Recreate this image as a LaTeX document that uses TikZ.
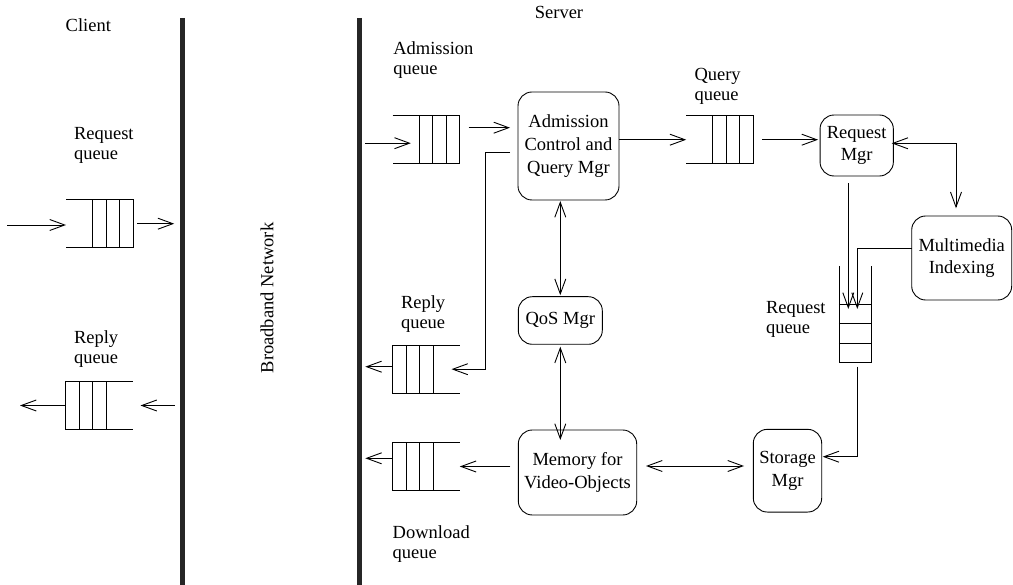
\documentclass[tikz,border=0pt]{standalone}
\usepackage{fontspec}
\setmainfont{Liberation Serif}
\usetikzlibrary{arrows.meta,calc}
\newcommand{\qopenleft}[1]{%
  \draw (#1.north west) -- (#1.north east) -- (#1.south east) -- (#1.south west);
  \foreach \d in {13.5,27,40.5} \draw ([xshift=-\d pt]#1.north east) -- ([xshift=-\d pt]#1.south east);}
\newcommand{\qopenright}[1]{%
  \draw (#1.north east) -- (#1.north west) -- (#1.south west) -- (#1.south east);
  \foreach \d in {13.5,27,40.5} \draw ([xshift=\d pt]#1.north west) -- ([xshift=\d pt]#1.south west);}
\newcommand{\qopentop}[1]{%
  \draw (#1.north west) -- (#1.south west) -- (#1.south east) -- (#1.north east);
  \foreach \d in {19.5,39,58.5} \draw ([yshift=\d pt]#1.south west) -- ([yshift=\d pt]#1.south east);}
\begin{document}
\begin{tikzpicture}[x=1pt,y=-1pt, line width=0.9pt,
  every node/.style={inner sep=0pt, outer sep=0pt},
  lbl/.style={align=left, anchor=base west, font=\fontsize{18.5}{20}\selectfont},
  ttl/.style={anchor=base, font=\fontsize{18.5}{20}\selectfont},
  box/.style={draw, rounded corners=14pt, align=center, font=\fontsize{18.5}{22.7}\selectfont},
  q/.style={minimum width=67pt, minimum height=48pt},
  arr/.style={-{Straight Barb[length=15pt,width=11pt]}},
  darr/.style={{Straight Barb[length=15pt,width=11pt]}-{Straight Barb[length=15pt,width=11pt]}},
  bar/.style={line width=5pt, draw=black!85}]
\useasboundingbox (0,0) rectangle (1013,585);

% network bars
\coordinate (lbar) at (182.7,18);
\coordinate (lbarb) at (182.7,585);
\coordinate (rbar) at (359.3,18);
\coordinate (rbarb) at (359.3,585);
\draw[bar] (lbar) -- (lbarb);
\draw[bar] (rbar) -- (rbarb);

% titles
\node[ttl] (client) at (88.3,31.7) {Client};
\node[ttl] (server) at (559,18.3) {Server};
\node[rotate=90, font=\fontsize{18.5}{20}\selectfont] (bbn) at (267,298) {Broadband Network};

% queues
\node[q] (cq) at (99.5,223.7) {};
\node[q] (cr) at (99,405.5) {};
\node[q] (aq) at (426,139.7) {};
\node[q] (qq) at (719.7,139.7) {};
\node[q] (rq) at (426.3,369.2) {};
\node[q] (dq) at (426.3,466.5) {};
\node[minimum width=32.7pt, minimum height=96.7pt] (vq) at (855.3,314.3) {};
\qopenleft{cq}
\qopenright{cr}
\qopenleft{aq}
\qopenleft{qq}
\qopenright{rq}
\qopenright{dq}
\qopentop{vq}

% queue labels (anchor = baseline of the last line)
\node[lbl] (lcq) at (74,160) {Request\\queue};
\node[lbl] (lcr) at (74,363.3) {Reply\\queue};
\node[lbl] (laq) at (393.3,75) {Admission\\queue};
\node[lbl] (lqq) at (694.5,100.7) {Query\\queue};
\node[lbl] (lvq) at (766,334) {Request\\queue};
\node[lbl] (lrq) at (401,329) {Reply\\queue};
\node[lbl] (ldq) at (392.7,558) {Download\\queue};

% boxes
\node[box, minimum width=101pt, minimum height=108pt] (adm) at (568.5,146) {Admission\\Control and\\Query Mgr};
\node[box, minimum width=73.3pt, minimum height=61pt] (rm) at (856.7,145.5) {Request\\Mgr};
\node[box, minimum width=100pt, minimum height=84pt] (mm) at (961.7,258) {Multimedia\\Indexing};
\node[box, minimum width=84pt, minimum height=47.6pt] (qos) at (560.3,320.5) {QoS Mgr};
\node[box, minimum width=118.4pt, minimum height=85pt] (mem) at (577.5,472.5) {Memory for\\Video-Objects};
\node[box, minimum width=68.4pt, minimum height=82.7pt] (stor) at (787.5,470.7) {Storage\\Mgr};

% client side connectors
\coordinate (cin) at (7,225);
\draw[arr] (cin) -- (cin -| cq.west);
\draw[arr, shorten <=4pt, shorten >=8.5pt] (cq.east) -- (cq.east -| lbar);
\draw[arr, shorten <=8pt, shorten >=8pt] (cr.east -| lbar) -- (cr.east);
\coordinate (cout) at (20,405.5);
\draw[arr] (cr.west) -- (cout);

% server side connectors
\path ($(aq.west)+(18.3,3.5)$) coordinate (ain);
\draw[arr, shorten <=6pt] (ain -| rbar) -- (ain);
\path ($(aq.east)+(9,-12)$) coordinate (t1);
\draw[arr, shorten >=8pt] (t1) -- (t1 -| adm.west);
\draw[arr] (adm.east |- qq.west) -- (qq.west);
\draw[arr, shorten <=9pt, shorten >=2pt] (qq.east) -- (qq.east -| rm.west);
\path ($(rm.east)+(0,-2.2)$) coordinate (t2);
\draw[darr, shorten <=-1.7pt, shorten >=7.7pt] (t2) -| ([xshift=-5.7pt]mm.north);
\path ([xshift=-8.4pt]rm.south) coordinate (t3);
\path ($(vq.north)+(0,43)$) coordinate (vqtip);
\draw[arr, shorten <=7.3pt] (t3) -- (t3 |- vqtip);
\path ($(mm.west)+(0,-9.7)$) coordinate (t4);
\draw[arr] (t4) -| ([xshift=2pt]vqtip);
\draw[arr, shorten <=4pt, shorten >=1pt] ([xshift=2pt]vq.south) |- ($(stor.east)+(0,-14)$);
\path ($(mem.east)+(0,-6.5)$) coordinate (t5);
\draw[darr, shorten <=9.3pt, shorten >=9.3pt] (t5) -- (t5 -| stor.west);
\draw[arr, shorten <=8pt] (mem.west |- dq.east) -- (dq.east);
\path ($(dq.west)+(0,-8.2)$) coordinate (t6);
\draw[arr, shorten >=6pt] (t6) -- (t6 -| rbar);
\path ($(rq.west)+(0,-2.5)$) coordinate (t7);
\draw[arr, shorten >=6pt] (t7) -- (t7 -| rbar);
\path ($(adm.west)+(0,6.3)$) coordinate (t8);
\draw[arr] ([xshift=-8pt]t8) -- ++(-25,0) |- ([xshift=-8.3pt]rq.east);
\draw[darr, shorten <=1pt, shorten >=1.5pt] (qos.north |- adm.south) -- (qos.north);
\draw[darr, shorten <=2.4pt, shorten >=-10pt] (qos.south) -- (qos.south |- mem.north);
\end{tikzpicture}
\end{document}
